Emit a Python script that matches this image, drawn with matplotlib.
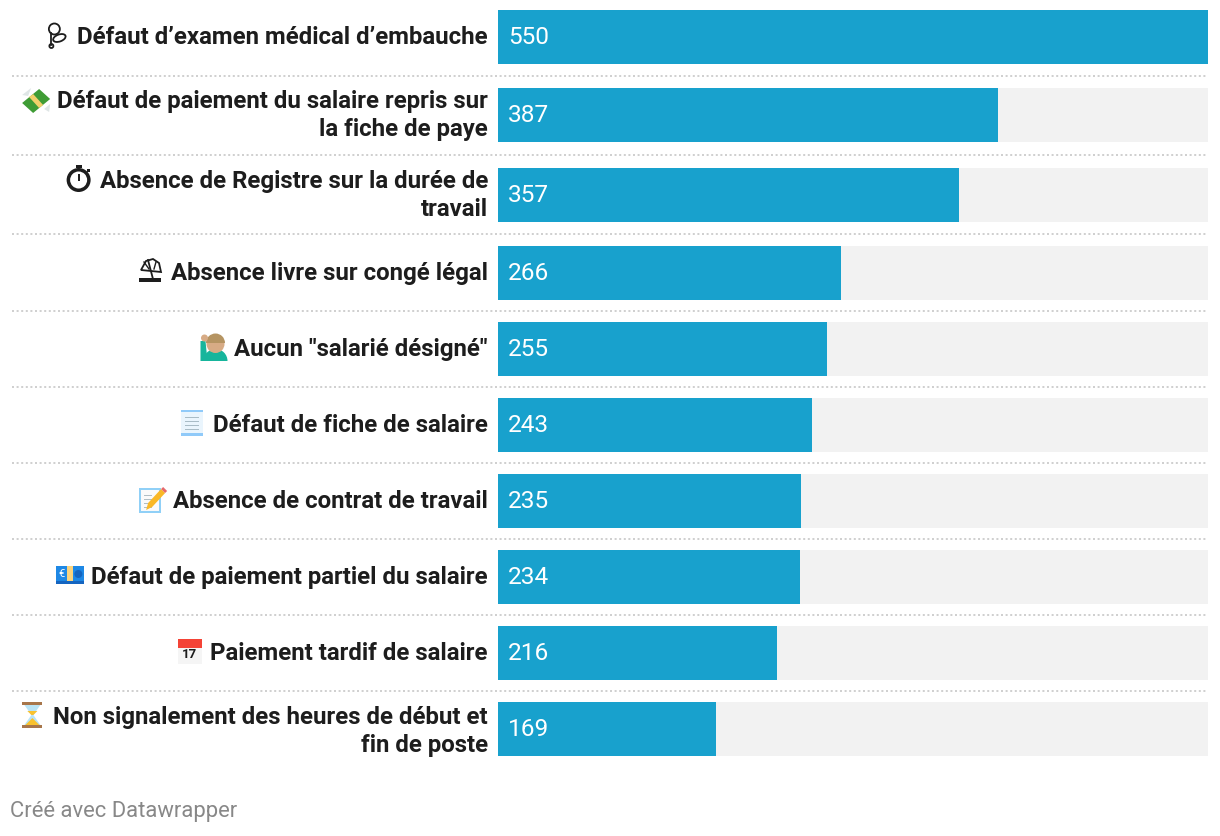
import matplotlib
matplotlib.use("Agg")
import matplotlib.pyplot as plt
from matplotlib.patches import Rectangle, Circle, Polygon, Ellipse, Wedge

categories = [
    "Défaut d’examen médical d’embauche",
    "Défaut de paiement du salaire repris sur\nla fiche de paye",
    "Absence de Registre sur la durée de\ntravail",
    "Absence livre sur congé légal",
    "Aucun \"salarié désigné\"",
    "Défaut de fiche de salaire",
    "Absence de contrat de travail",
    "Défaut de paiement partiel du salaire",
    "Paiement tardif de salaire",
    "Non signalement des heures de début et\nfin de poste",
]
values = [550, 387, 357, 266, 255, 243, 235, 234, 216, 169]
icon_names = ["stetho", "money", "watch", "beach", "man",
              "receipt", "memo", "euro", "calendar", "hourglass"]
footer = "Créé avec Datawrapper"

BLUE = "#18a1cd"
TRACK = "#f2f2f2"
INK = "#1d1d1d"
W, H = 1220, 836
BAR_H = 54
FIRST_TOP = 10
ROW_STEPS = [78, 80, 78, 76, 76, 76, 76, 76, 76]

plt.rcParams["font.family"] = ["Roboto", "DejaVu Sans"]


# each icon is drawn around (cx, cy) in pixels, y pointing down
def draw_icon(ax, name, cx, cy):
    def rect(dx, dy, w, h, c, **kw):
        ax.add_patch(Rectangle((cx + dx, cy + dy), w, h, fc=c, ec="none", **kw))

    def poly(pts, c):
        ax.add_patch(Polygon([(cx + a, cy + b) for a, b in pts], fc=c, ec="none"))

    if name == "stetho":
        ax.add_patch(Circle((cx - 2, cy - 6), 5.5, fc="none", ec=INK, lw=1.3))
        ax.add_patch(Ellipse((cx + 3, cy + 3), 13, 7, angle=-20, fc="none", ec=INK, lw=1.3))
        ax.plot([cx - 5, cx - 5], [cy - 2, cy + 10], color=INK, lw=1.3)
        ax.add_patch(Circle((cx - 5, cy + 11), 2, fc="none", ec=INK, lw=1.3))
    elif name == "money":
        poly([(-14, 4), (3, -10), (14, 0), (-3, 14)], "#3f9c35")
        poly([(-7, -2), (-3, -5), (7, 6), (3, 9)], "#f2d06b")
        poly([(-14, -4), (-5, -11), (-8, -3)], "#dfe6e6")
        poly([(14, 5), (8, 10), (13, 13)], "#dfe6e6")
    elif name == "watch":
        ax.add_patch(Circle((cx, cy + 1), 12, fc=INK, ec="none"))
        ax.add_patch(Circle((cx, cy + 1), 8.5, fc="white", ec="none"))
        rect(-3, -14, 6, 3, INK)
        rect(-1, -5, 2, 7, INK)
        rect(8, -10, 3, 3, INK)
    elif name == "beach":
        poly([(-8, -2), (-4, -10), (3, -12), (9, -8), (11, 0), (2, -3)], "white")
        ax.add_patch(Polygon([(cx - 9, cy - 1), (cx - 4, cy - 10), (cx + 3, cy - 12),
                              (cx + 9, cy - 8), (cx + 11, cy + 1)],
                             fc="none", ec=INK, lw=1.3))
        ax.plot([cx - 2, cx + 3], [cy - 11, cy + 8], color=INK, lw=1.3)
        ax.plot([cx - 6, cx - 1], [cy - 9, cy - 2], color=INK, lw=1)
        ax.plot([cx + 6, cx + 4], [cy - 9, cy - 2], color=INK, lw=1)
        rect(-11, 7, 22, 3.5, INK)
    elif name == "man":
        ax.add_patch(Wedge((cx + 2, cy + 14), 12, 180, 360, fc="#17b59c", ec="none"))
        poly([(-13, 14), (-13, -6), (-8, -6), (-6, 14)], "#17b59c")
        ax.add_patch(Circle((cx + 2, cy - 3), 9, fc="#d7ab85", ec="none"))
        ax.add_patch(Wedge((cx + 2, cy - 4), 9.5, 180, 360, fc="#b59462", ec="none"))
        ax.add_patch(Circle((cx - 9, cy - 9), 3.5, fc="#d7ab85", ec="none"))
    elif name == "receipt":
        rect(-11, -13, 22, 26, "#eaf5fd")
        rect(-11, 10, 22, 3, "#90caf9")
        rect(-11, -13, 22, 1.5, "#90caf9")
        for dy in (-6, -2, 2, 6):
            rect(-7, dy, 14, 1.2, "#a9bcc6")
    elif name == "memo":
        rect(-13, -11, 22, 25, "#90d0f7")
        rect(-11, -9, 18, 21, "#fafafa")
        for dy in (-4, 0, 4, 8):
            rect(-8, dy, 8, 1.2, "#b0bec5")
        poly([(-6, 11), (-4, 4), (9, -10), (13, -6), (0, 8)], "#f9b826")
        poly([(9, -10), (11, -12), (15, -8), (13, -6)], "#e5686b")
    elif name == "euro":
        rect(-14, -9, 28, 18, "#1e88e5")
        rect(-3, -9, 6, 18, "#fbd37d")
        rect(-14, 6, 28, 3, "#1565c0")
        ax.add_patch(Circle((cx + 8, cy - 1), 4, fc="#1565c0", ec="none"))
        ax.text(cx - 9, cy - 1, "€", color="white", fontsize=8, ha="center", va="center")
    elif name == "calendar":
        rect(-12, -12, 24, 25, "#f5f5f5")
        rect(-12, -12, 24, 9, "#f44336")
        ax.text(cx, cy + 4, "17", color=INK, fontsize=9.5, weight="bold",
                ha="center", va="center")
    elif name == "hourglass":
        poly([(-8, -10), (8, -10), (1, 0), (8, 10), (-8, 10), (-1, 0)], "#b9e4f6")
        poly([(-5, -4), (5, -4), (1, 0), (-1, 0)], "#f9c22e")
        poly([(-7, 10), (7, 10), (0, 3)], "#f9c22e")
        rect(-10, -13, 20, 3, "#a8764a")
        rect(-10, 10, 20, 3, "#a8764a")


fig = plt.figure(figsize=(W / 100, H / 100), dpi=100, facecolor="white")

# overlay in pixel coordinates for labels, rules, icons
px = fig.add_axes([0, 0, 1, 1])
px.set_xlim(0, W)
px.set_ylim(H, 0)
px.axis("off")

# bars on their own value scale, y still in pixels
ax = fig.add_axes([498 / W, 0, 710 / W, 1])
ax.set_xlim(0, max(values))
ax.set_ylim(H, 0)
ax.axis("off")
ax.patch.set_alpha(0)

tops = [FIRST_TOP]
for step in ROW_STEPS:
    tops.append(tops[-1] + step)
centers = [t + BAR_H / 2 for t in tops]

ax.barh(centers, [max(values)] * len(values), height=BAR_H, color=TRACK)
ax.barh(centers, values, height=BAR_H, color=BLUE)

for c, v in zip(centers, values):
    ax.annotate(str(v), (0, c), xytext=(10 * 0.72, 1.5), textcoords="offset points",
                color="white", fontsize=17.6, ha="left", va="center_baseline")

for t0, t1 in zip(tops[:-1], tops[1:]):
    y = (t0 + BAR_H + t1) / 2
    px.plot([12, 1208], [y, y], color="#d0d0d0", lw=1.44, ls=(0, (1, 1.3)))

renderer = fig.canvas.get_renderer()
for k, (label, c, name) in enumerate(zip(categories, centers, icon_names)):
    lines = label.split("\n")
    y0 = c - 14 * (len(lines) - 1) - 2
    if k == len(categories) - 1:
        y0 += 2  # last row sits a bit lower in the original
    first = None
    for i, line in enumerate(lines):
        t = px.text(488, y0 + 28 * i + 9, line, color=INK, fontsize=17.3,
                    weight="bold", ha="right", va="baseline")
        if i == 0:
            first = t
    left = first.get_window_extent(renderer).x0
    draw_icon(px, name, left - 21, y0)

px.text(10, 811, footer, color="#888888", fontsize=15.85, ha="left", va="center")

fig.savefig("out.png", dpi=100)
